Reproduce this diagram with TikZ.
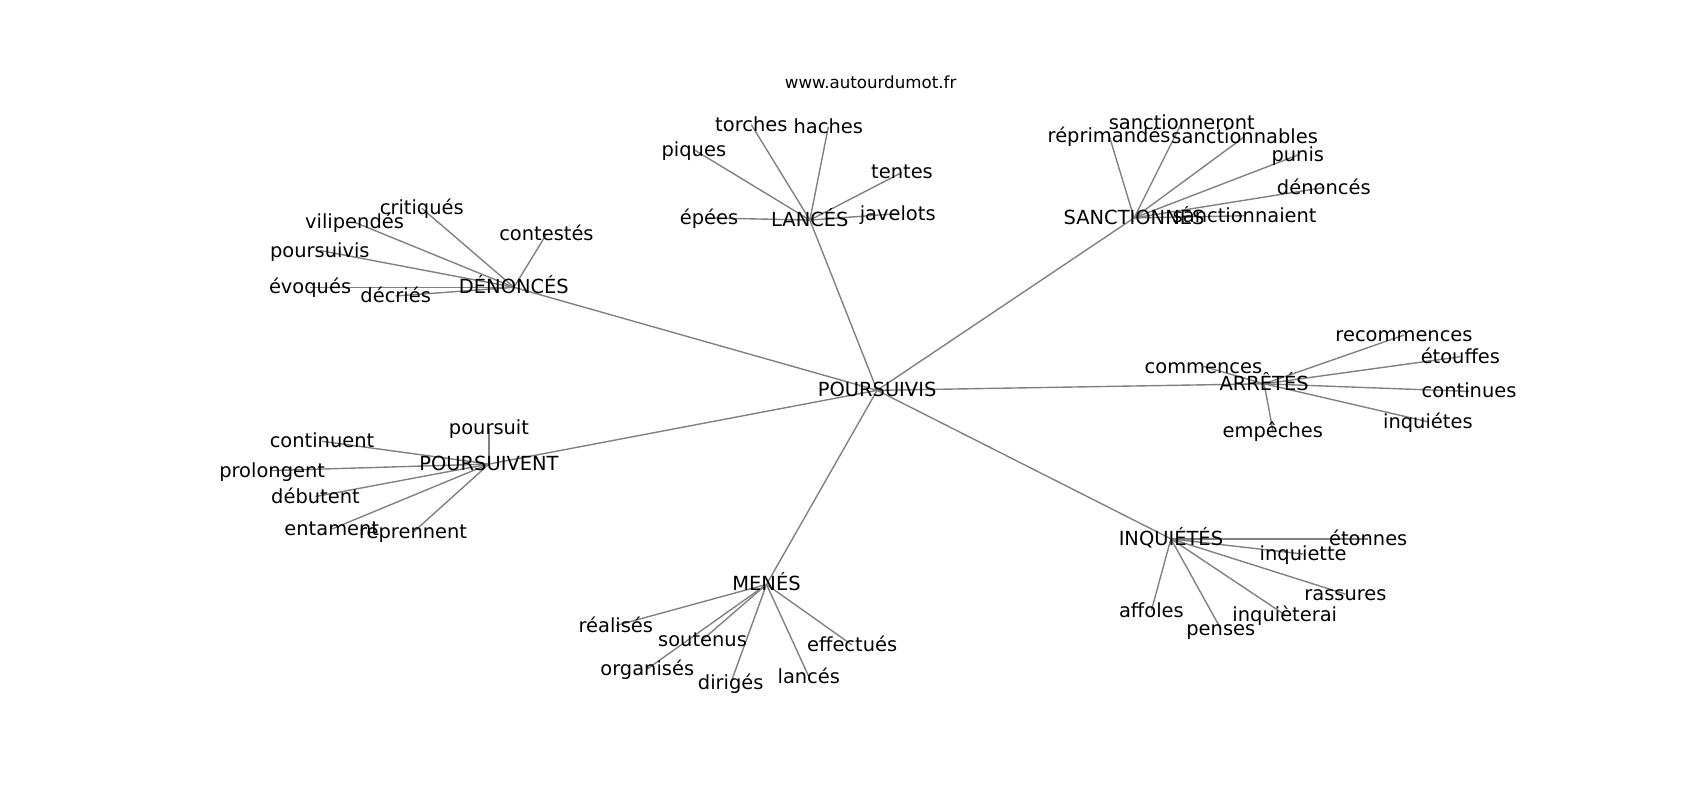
\documentclass[tikz,border=0pt]{standalone}
\usepackage{fontspec}
\setmainfont{DejaVu Sans}
\usetikzlibrary{backgrounds}
\begin{document}
\begin{tikzpicture}[x=0.7806pt,y=-0.7806pt,
	mot/.style={font=\fontsize{14}{16}\selectfont,inner sep=0pt,text height=0.95em,text depth=0pt},
	lien/.style={draw=gray,line width=1pt}]
	\useasboundingbox (0,0) rectangle (1568,738);
	\node[font=\fontsize{12}{14}\selectfont] (titre) at (803,76) {www.autourdumot.fr};
	% centre et groupes
	\node[mot] (pours) at (809,360) {POURSUIVIS};
	\node[mot] (denon) at (474,265) {DÉNONCÉS};
	\node[mot] (lance) at (747,203) {LANCÉS};
	\node[mot] (sanct) at (1046,201) {SANCTIONNÉS};
	\node[mot] (arret) at (1166,354) {ARRÊTÉS};
	\node[mot] (inqui) at (1080,497) {INQUIÉTÉS};
	\node[mot] (menes) at (707,539) {MENÉS};
	\node[mot] (poursv) at (451,428) {POURSUIVENT};
	% dénoncés
	\node[mot] (critiq) at (389,192) {critiqués};
	\node[mot] (vilip) at (327,205) {vilipendés};
	\node[mot] (poursvs) at (295,231) {poursuivis};
	\node[mot] (evoq) at (286,265) {évoqués};
	\node[mot] (decri) at (365,273) {décriés};
	\node[mot] (contes) at (504,216) {contestés};
	% lancés
	\node[mot] (torch) at (693,115) {torches};
	\node[mot] (hach) at (764,117) {haches};
	\node[mot] (piq) at (640,138) {piques};
	\node[mot] (tent) at (832,159) {tentes};
	\node[mot] (epee) at (654,201) {épées};
	\node[mot] (javel) at (828,197) {javelots};
	% sanctionnés
	\node[mot] (sancront) at (1090,113) {sanctionneront};
	\node[mot] (reprim) at (1023,125) {réprimandés};
	\node[mot] (sancbles) at (1148,126) {sanctionnables};
	\node[mot] (punis) at (1197,143) {punis};
	\node[mot] (denc) at (1221,173) {dénoncés};
	\node[mot] (sancent) at (1148,199) {sanctionnaient};
	% arrêtés
	\node[mot] (recom) at (1295,309) {recommences};
	\node[mot] (etouf) at (1347,329) {étouffes};
	\node[mot] (comm) at (1110,338) {commences};
	\node[mot] (contin) at (1355,361) {continues};
	\node[mot] (inqtes) at (1317,389) {inquiétes};
	\node[mot] (empech) at (1174,397) {empêches};
	% inquiétés
	\node[mot] (eton) at (1262,497) {étonnes};
	\node[mot] (inqette) at (1202,511) {inquiette};
	\node[mot] (rass) at (1241,548) {rassures};
	\node[mot] (inqrai) at (1185,567) {inquièterai};
	\node[mot] (affol) at (1062,563) {affoles};
	\node[mot] (pens) at (1126,580) {penses};
	% menés
	\node[mot] (realis) at (568,577) {réalisés};
	\node[mot] (souten) at (648,590) {soutenus};
	\node[mot] (organ) at (597,617) {organisés};
	\node[mot] (dirig) at (674,630) {dirigés};
	\node[mot] (lances) at (746,624) {lancés};
	\node[mot] (effect) at (786,595) {effectués};
	% poursuivent
	\node[mot] (poursuit) at (451,395) {poursuit};
	\node[mot] (continu) at (297,407) {continuent};
	\node[mot] (prolong) at (251,434) {prolongent};
	\node[mot] (debut) at (291,458) {débutent};
	\node[mot] (entam) at (306,488) {entament};
	\node[mot] (repren) at (381,491) {reprennent};
	\begin{scope}[on background layer]
		\foreach \a/\b in {pours/denon,pours/lance,pours/sanct,pours/arret,pours/inqui,pours/menes,pours/poursv,
			denon/critiq,denon/vilip,denon/poursvs,denon/evoq,denon/decri,denon/contes,
			lance/torch,lance/hach,lance/piq,lance/tent,lance/epee,lance/javel,
			sanct/sancront,sanct/reprim,sanct/sancbles,sanct/punis,sanct/denc,sanct/sancent,
			arret/recom,arret/etouf,arret/comm,arret/contin,arret/inqtes,arret/empech,
			inqui/eton,inqui/inqette,inqui/rass,inqui/inqrai,inqui/affol,inqui/pens,
			menes/realis,menes/souten,menes/organ,menes/dirig,menes/lances,menes/effect,
			poursv/poursuit,poursv/continu,poursv/prolong,poursv/debut,poursv/entam,poursv/repren}
			\draw[lien] (\a.center) -- (\b.center);
	\end{scope}
\end{tikzpicture}
\end{document}
